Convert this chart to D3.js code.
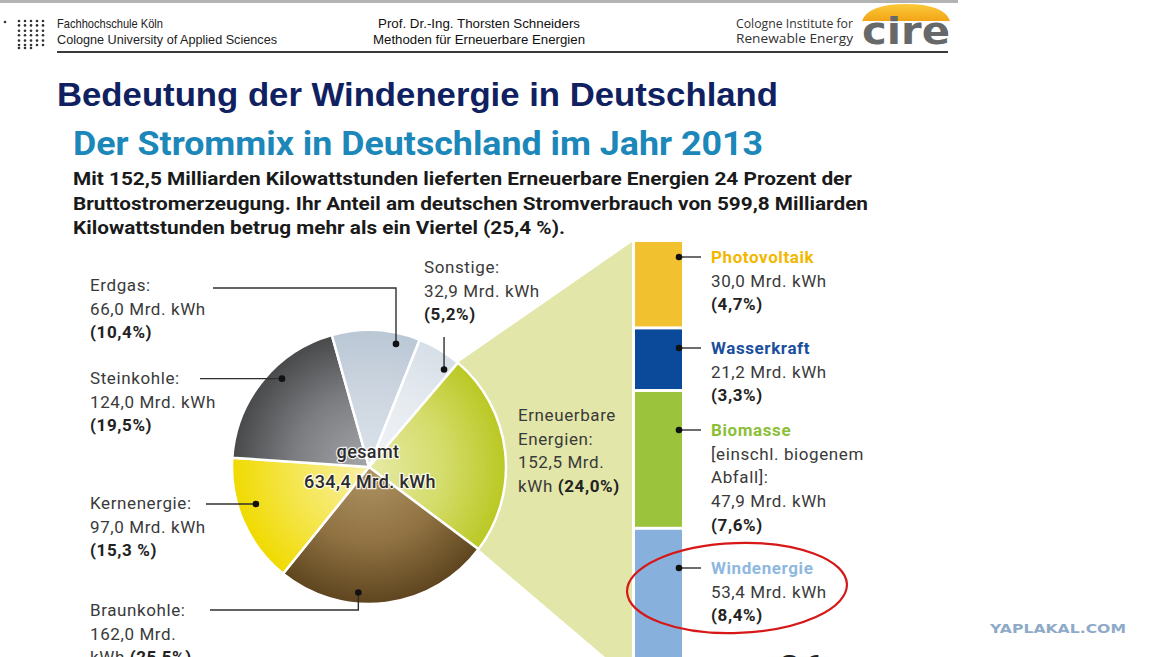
<!DOCTYPE html>
<html>
<head>
<meta charset="utf-8">
<script src="https://cdn.jsdelivr.net/npm/d3@7"></script>
<style>
body{margin:0;background:#fff}
svg{display:block}
</style>
</head>
<body>
<script>
// data: electricity mix 2013 (Mrd. kWh)
var mixNames = ["Erneuerbare Energien", "Braunkohle", "Kernenergie", "Steinkohle", "Erdgas", "Sonstige"];
var mixValues = [152.5, 162.0, 97.0, 124.0, 66.0, 32.9];
var mixShares = ["24,0%", "25,5%", "15,3 %", "19,5%", "10,4%", "5,2%"];
var totalLabel = "634,4 Mrd. kWh";

// renewables breakdown
var renewNames = ["Photovoltaik", "Wasserkraft", "Biomasse", "Windenergie"];
var renewValues = [30.0, 21.2, 47.9, 53.4];
var renewShares = ["4,7%", "3,3%", "7,6%", "8,4%"];

var svgWidth = 1152, svgHeight = 657;
var de = d3.formatLocale({decimal: ",", thousands: ".", grouping: [3], currency: ["", "€"]});
var fmt = de.format(".1f");

var svg = d3.select("body").append("svg")
  .attr("width", svgWidth)
  .attr("height", svgHeight)
  .style("background", "#fff");

var defs = svg.append("defs");

// ---------- slide header ----------
svg.append("rect").attr("x", 0).attr("y", 0).attr("width", 958).attr("height", 3).attr("fill", "#b3b3b3");

// dotted logo of the university
svg.append("circle").attr("cx", 5).attr("cy", 22).attr("r", 1.3).attr("fill", "#333");
var dotRows = d3.range(6), dotCols = d3.range(5);
dotRows.forEach(function(r){
  dotCols.forEach(function(c){
    svg.append("circle").attr("cx", 19 + c*6).attr("cy", 21 + r*4.4 + (r>1?1:0) + (r>3?1:0)).attr("r", 1.3).attr("fill", "#333");
  });
});
d3.range(3).forEach(function(c){
  svg.append("circle").attr("cx", 19 + c*6).attr("cy", 48).attr("r", 1.3).attr("fill", "#333");
});

var headFont = "'Liberation Sans Narrow','Liberation Sans',Arial,sans-serif";
svg.append("text").attr("x", 57).attr("y", 28).attr("font-family", headFont).attr("font-size", 13)
  .attr("fill", "#222").attr("textLength", 106).attr("lengthAdjust", "spacingAndGlyphs").text("Fachhochschule Köln");
svg.append("text").attr("x", 57).attr("y", 44).attr("font-family", headFont).attr("font-size", 13)
  .attr("fill", "#222").attr("textLength", 220).attr("lengthAdjust", "spacingAndGlyphs").text("Cologne University of Applied Sciences");
svg.append("text").attr("x", 479).attr("y", 28).attr("text-anchor", "middle").attr("font-family", headFont).attr("font-size", 13)
  .attr("fill", "#111").attr("textLength", 202).attr("lengthAdjust", "spacingAndGlyphs").text("Prof. Dr.-Ing. Thorsten Schneiders");
svg.append("text").attr("x", 479).attr("y", 44).attr("text-anchor", "middle").attr("font-family", headFont).attr("font-size", 13)
  .attr("fill", "#111").attr("textLength", 212).attr("lengthAdjust", "spacingAndGlyphs").text("Methoden für Erneuerbare Energien");
svg.append("text").attr("x", 736).attr("y", 28).attr("font-family", "'Open Sans',sans-serif").attr("font-size", 12)
  .attr("fill", "#333").attr("textLength", 117).attr("lengthAdjust", "spacingAndGlyphs").text("Cologne Institute for");
svg.append("text").attr("x", 736).attr("y", 43).attr("font-family", "'Open Sans',sans-serif").attr("font-size", 12)
  .attr("fill", "#333").attr("textLength", 117).attr("lengthAdjust", "spacingAndGlyphs").text("Renewable  Energy");

// cire logo
var sun = defs.append("linearGradient").attr("id", "sun").attr("x1", 0).attr("y1", 0).attr("x2", 0).attr("y2", 1);
sun.append("stop").attr("offset", 0).attr("stop-color", "#fbc93a");
sun.append("stop").attr("offset", 1).attr("stop-color", "#f2a516");
svg.append("path").attr("d", "M862,21 Q868,4 906,4 Q944,4 950,21 Z").attr("fill", "url(#sun)");
svg.append("text").attr("x", 862).attr("y", 44).attr("font-family", "'DejaVu Sans',sans-serif").attr("font-weight", "bold")
  .attr("font-size", 38).attr("fill", "#67686a").attr("textLength", 88).attr("lengthAdjust", "spacingAndGlyphs").text("cire");

svg.append("line").attr("x1", 57).attr("x2", 948).attr("y1", 52).attr("y2", 52).attr("stroke", "#3a3a3a").attr("stroke-width", 2);

// ---------- titles ----------
svg.append("text").attr("x", 57).attr("y", 106).attr("font-family", "'Liberation Sans',Arial,sans-serif").attr("font-weight", "bold")
  .attr("font-size", 33).attr("fill", "#0f2160").attr("textLength", 721).attr("lengthAdjust", "spacingAndGlyphs")
  .text("Bedeutung der Windenergie in Deutschland");

var dinFont = "Roboto,'Noto Sans',sans-serif";
svg.append("text").attr("x", 73).attr("y", 155).attr("font-family", dinFont).attr("font-weight", "bold")
  .attr("font-size", 34).attr("fill", "#1c87b9").attr("textLength", 690).attr("lengthAdjust", "spacingAndGlyphs")
  .text("Der Strommix in Deutschland im Jahr 2013");

var intro = [
  {t: "Mit 152,5 Milliarden Kilowattstunden lieferten Erneuerbare Energien 24 Prozent der", w: 779},
  {t: "Bruttostromerzeugung. Ihr Anteil am deutschen Stromverbrauch von 599,8 Milliarden", w: 795},
  {t: "Kilowattstunden betrug mehr als ein Viertel (25,4 %).", w: 492}
];
intro.forEach(function(l, i){
  svg.append("text").attr("x", 73).attr("y", 185 + i*24.5).attr("font-family", dinFont).attr("font-weight", "bold")
    .attr("font-size", 19).attr("fill", "#1a1a1a").attr("textLength", l.w).attr("lengthAdjust", "spacingAndGlyphs").text(l.t);
});

// ---------- pie ----------
var cx = 369, cy = 467, R = 137;
var a0 = 40.4 * Math.PI / 180;
var pie = d3.pie().sort(null).value(function(d){ return d; }).startAngle(a0).endAngle(a0 + 2*Math.PI);
var arcs = pie(mixValues);
var arc = d3.arc().innerRadius(0).outerRadius(R);

function polar(a, r){ return [cx + r*Math.sin(a), cy - r*Math.cos(a)]; }

// renewable stack column
var barX = 635, barW = 47, barTop = 242, gap = 3;
var yScale = d3.scaleLinear().domain([0, d3.sum(renewValues)]).range([0, 429]);
var stack = [];
var cum = 0;
renewValues.forEach(function(v, i){
  stack.push({name: renewNames[i], y0: barTop + yScale(cum) + i*gap, y1: barTop + yScale(cum + v) + i*gap, v: v, share: renewShares[i]});
  cum += v;
});
var barBottom = stack[stack.length-1].y1;

// fan from the renewables slice to the column
var ren = arcs[0];
var pA = polar(ren.startAngle, R), pB = polar(ren.endAngle, R);
svg.append("path")
  .attr("d", d3.line()([pA, [barX - 3, barTop], [barX - 3, barBottom], pB]) + "Z")
  .attr("fill", "#e2e6a8");

// light centre -> darker rim, per slice (gradient in the pie group's own coords)
var sliceGrad = [
  ["#e6eaa6", "#d4dc6a", "#bac823"],
  ["#b09462", "#917343", "#5e451f"],
  ["#f8f0a8", "#f5e650", "#f0da00"],
  ["#a6a7aa", "#7c7d80", "#48494b"],
  ["#dbe2ea", "#cdd6e0", "#bac7d5"],
  ["#f1f4f7", "#e6ebf0", "#d6dee7"]
];
sliceGrad.forEach(function(g, i){
  var rg = defs.append("radialGradient").attr("id", "sg" + i).attr("gradientUnits", "userSpaceOnUse")
    .attr("cx", 0).attr("cy", 0).attr("r", R);
  rg.append("stop").attr("offset", 0).attr("stop-color", g[0]);
  rg.append("stop").attr("offset", 0.55).attr("stop-color", g[1]);
  rg.append("stop").attr("offset", 1).attr("stop-color", g[2]);
});

var pieG = svg.append("g").attr("transform", "translate(" + cx + "," + cy + ")");
pieG.selectAll("path").data(arcs).enter().append("path")
  .attr("d", arc)
  .attr("fill", function(d, i){ return "url(#sg" + i + ")"; })
  .attr("stroke", "#fff").attr("stroke-width", 2.5).attr("stroke-linejoin", "round");

// center label
var halo = function(sel){
  sel.attr("font-family", dinFont).attr("font-size", 18).attr("font-weight", 500).attr("fill", "#2b2b2b")
    .attr("stroke", "#fff").attr("stroke-opacity", 0.85).attr("stroke-width", 2.5).attr("paint-order", "stroke").attr("text-anchor", "middle");
};
svg.append("text").attr("x", 368).attr("y", 458).call(halo).attr("letter-spacing", 0.4).text("gesamt");
svg.append("text").attr("x", 370).attr("y", 488).call(halo).attr("letter-spacing", 0.4).text(totalLabel);

// leader lines with dots: fraction along slice, radius, path type
var leaders = [
  null,
  {f: 0.63, r: 126, kind: "down", y: 610, x: 210},
  {f: 0.60, r: 119, kind: "h", x: 206},
  {f: 0.59, r: 124, kind: "h", x: 200},
  {f: 0.75, r: 126, kind: "up", y: 288, x: 213},
  {f: 0.85, r: 123, kind: "v", y: 337}
];
var ink = "#2f2f2f";
arcs.forEach(function(a, i){
  var L = leaders[i];
  if (!L) return;
  var p = polar(a.startAngle + L.f*(a.endAngle - a.startAngle), L.r);
  var pts;
  if (L.kind === "h") pts = [p, [L.x, p[1]]];
  else if (L.kind === "v") pts = [p, [p[0], L.y]];
  else pts = [p, [p[0], L.y], [L.x, L.y]];
  svg.append("path").attr("d", d3.line()(pts)).attr("fill", "none").attr("stroke", ink).attr("stroke-width", 1.4);
  svg.append("circle").attr("cx", p[0]).attr("cy", p[1]).attr("r", 3.3).attr("fill", "#111");
});

// slice labels
var lh = 23.7;
function label(x, y, lines){
  var t = svg.append("text").attr("x", x).attr("y", y).attr("font-family", dinFont).attr("font-size", 17)
    .attr("letter-spacing", 0.6).attr("fill", "#3a3a3a");
  lines.forEach(function(line, k){
    line.forEach(function(seg, j){
      var ts = t.append("tspan").text(seg.t);
      if (j === 0) ts.attr("x", x).attr("y", y + k*lh);
      if (seg.b) ts.attr("font-weight", "bold").attr("fill", "#222");
      if (seg.c) ts.attr("fill", seg.c).attr("font-weight", "bold");
    });
  });
  return t;
}
function mrd(v){ return fmt(v) + " Mrd. kWh"; }

var mixLabelPos = [[518, 421], [90, 616], [90, 509], [90, 384], [90, 291], [424, 273]];
mixValues.forEach(function(v, i){
  var p = mixLabelPos[i], lines;
  var share = "(" + mixShares[i] + ")";
  if (i === 0) {
    lines = [[{t: "Erneuerbare"}], [{t: "Energien:"}], [{t: fmt(v) + " Mrd."}], [{t: "kWh "}, {t: share, b: true}]];
  } else if (i === 1) {
    lines = [[{t: mixNames[i] + ":"}], [{t: fmt(v) + " Mrd."}], [{t: "kWh "}, {t: share, b: true}]];
  } else {
    lines = [[{t: mixNames[i] + ":"}], [{t: mrd(v)}], [{t: share, b: true}]];
  }
  label(p[0], p[1], lines);
});

// ---------- renewables column ----------
var renewColors = ["#f2c12f", "#0b4a9b", "#9bc33b", "#87b1dc"];
var renewTitleColors = ["#f3b700", "#1a4f9e", "#8cbf38", "#8fb8e0"];
svg.selectAll("rect.seg").data(stack).enter().append("rect").attr("class", "seg")
  .attr("x", barX).attr("width", barW)
  .attr("y", function(d){ return d.y0; })
  .attr("height", function(d){ return d.y1 - d.y0; })
  .attr("fill", function(d, i){ return renewColors[i]; });

var renewLabelY = [257, 348, 430, 568];
stack.forEach(function(d, i){
  var y = renewLabelY[i];
  svg.append("line").attr("x1", 680).attr("x2", 701).attr("y1", y).attr("y2", y).attr("stroke", ink).attr("stroke-width", 1.4);
  svg.append("circle").attr("cx", 679).attr("cy", y).attr("r", 3.3).attr("fill", "#111");
  var lines = [[{t: d.name, c: renewTitleColors[i]}]];
  if (d.name === "Biomasse") { lines.push([{t: "[einschl. biogenem"}]); lines.push([{t: "Abfall]:"}]); }
  lines.push([{t: mrd(d.v)}]);
  lines.push([{t: "(" + d.share + ")", b: true}]);
  label(711, y + 6, lines);
});

// highlight ring around wind energy
svg.append("ellipse").attr("cx", 737).attr("cy", 588).attr("rx", 110).attr("ry", 45)
  .attr("transform", "rotate(-2,737,588)")
  .attr("fill", "none").attr("stroke", "#d61818").attr("stroke-width", 2.2);

// cut-off text at the bottom edge
svg.append("text").attr("x", 778).attr("y", 684).attr("font-family", dinFont).attr("font-weight", "bold")
  .attr("font-size", 40).attr("fill", "#222").text("26");

// watermark
svg.append("text").attr("x", 990).attr("y", 633).attr("font-family", "'DejaVu Sans',sans-serif").attr("font-weight", "bold")
  .attr("font-size", 13).attr("fill", "#8eaac8").attr("textLength", 136).attr("lengthAdjust", "spacingAndGlyphs").text("YAPLAKAL.COM");
</script>
</body>
</html>
